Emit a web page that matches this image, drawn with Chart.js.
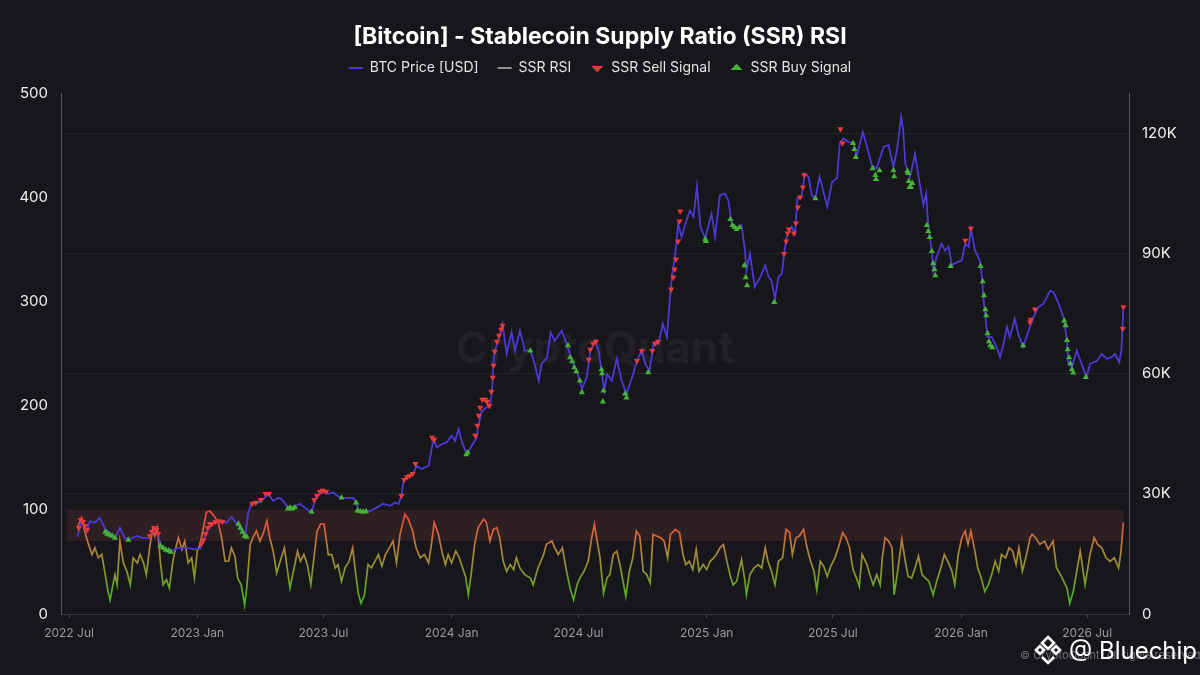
<!DOCTYPE html>
<html>
<head>
<meta charset="utf-8">
<title>[Bitcoin] - Stablecoin Supply Ratio (SSR) RSI</title>
<script src="https://cdn.jsdelivr.net/npm/chart.js@4.4.1/dist/chart.umd.min.js"></script>
<style>
html,body{margin:0;padding:0;background:#17161b;}
#wrap{position:relative;width:1200px;height:675px;overflow:hidden;background:#17161b;font-family:Inter,'Noto Sans',sans-serif;}
#c{position:absolute;left:0;top:0;}
#copy{position:absolute;left:1020px;top:648px;font-size:11px;color:#6f6e74;white-space:nowrap;}
#brand{position:absolute;left:1033px;top:634px;display:flex;align-items:center;color:#ffffff;font-size:24px;white-space:nowrap;}
#brand svg{margin-right:6px;}
</style>
</head>
<body>
<div id="wrap">
<canvas id="c" width="1200" height="675"></canvas>
<div id="copy">© CryptoQuant. All rights reserved.</div>
<div id="brand"><svg width="30" height="32" viewBox="0 0 30 32"><g fill="none" stroke="#ffffff" stroke-width="2.6"><path d="M15 3 L21 9 L15 15 L9 9 Z"/><path d="M3 16 L7 12 L11 16 L7 20 Z"/><path d="M19 16 L23 12 L27 16 L23 20 Z"/><path d="M9 23 L15 29 L21 23"/></g></svg><span>@ Bluechip</span></div>
</div>
<script>
// ---- x axis ticks (days since 2022-07-01) ----
const tickDays = [0, 184, 365, 549, 731, 915, 1096, 1280, 1461];
const tickLabels = ['2022 Jul', '2023 Jan', '2023 Jul', '2024 Jan', '2024 Jul', '2025 Jan', '2025 Jul', '2026 Jan', '2026 Jul'];
const leftTicks = [0, 100, 200, 300, 400, 500];
const rightTicks = [0, 30000, 60000, 90000, 120000];

// ---- BTC price (days since 2022-07-01, price in thousands USD) ----
const priceDays = [
  12,18,25,30,37,44,52,59,66,73,
  80,88,97,106,116,123,128,133,140,147,
  156,169,178,188,192,198,207,217,226,233,
  241,248,253,257,262,269,278,286,293,300,
  305,314,321,331,341,348,355,365,372,379,
  389,398,408,412,416,425,432,442,451,461,
  468,473,477,480,487,494,499,506,516,523,
  528,535,542,549,554,559,564,571,578,585,
  587,592,602,604,607,609,611,616,622,628,
  635,640,647,654,662,667,674,678,686,691,
  697,707,714,721,729,736,743,748,755,760,
  764,768,772,779,786,793,800,808,815,822,
  827,833,839,846,852,858,862,865,870,874,
  879,886,891,896,901,906,913,917,922,927,
  934,941,946,951,958,965,970,972,977,984,
  992,999,1004,1008,1013,1018,1023,1026,1030,1037,
  1042,1045,1051,1056,1061,1066,1071,1077,1082,1088,
  1095,1102,1106,1111,1118,1126,1130,1139,1145,1152,
  1159,1169,1176,1183,1188,1194,1197,1200,1207,1214,
  1219,1226,1230,1233,1238,1240,1245,1252,1257,1262,
  1267,1274,1281,1286,1291,1294,1300,1307,1310,1312,
  1315,1318,1324,1331,1336,1341,1346,1350,1357,1362,
  1369,1377,1384,1391,1398,1408,1413,1420,1427,1432,
  1434,1439,1446,1453,1460,1465,1475,1482,1489,1496,
  1501,1507,1510,1513
];
const priceK = [
  19.25,23.2,20.7,23.2,22.8,24.0,21.2,20.2,19.0,21.5,
  19.0,18.7,19.5,19.0,19.0,21.2,19.5,16.5,16.0,15.7,
  16.5,16.5,16.2,16.2,18.2,20.7,22.7,23.2,22.8,24.2,
  22.5,20.7,19.5,25.0,27.8,27.5,28.5,30.0,28.2,29.0,
  28.7,26.6,26.5,27.5,26.2,25.3,29.5,30.6,30.0,30.3,
  29.0,29.0,29.0,27.8,25.7,25.6,25.7,26.6,27.5,27.0,
  27.8,27.5,29.5,33.2,34.5,35.0,37.0,36.2,37.0,43.7,
  41.6,42.4,42.8,44.5,43.2,46.2,42.8,39.9,42.0,44.0,
  46.6,50.5,52.0,51.6,55.7,62.4,65.7,68.2,72.4,64.9,
  70.3,65.7,70.7,65.7,65.7,63.2,58.2,62.4,64.0,70.3,
  68.2,70.7,67.4,63.7,60.3,56.2,59.1,65.7,68.2,65.7,
  60.7,55.7,59.9,58.2,63.7,58.2,54.9,59.1,63.2,65.7,
  62.4,60.7,67.8,67.4,72.4,69.1,78.2,84.1,89.9,97.4,
  94.1,98.2,100.7,99.1,106.6,96.6,93.7,96.6,99.9,94.1,
  104.5,104.9,103.2,97.4,96.2,97.0,90.7,85.7,89.9,81.6,
  84.1,87.0,84.1,83.2,78.7,84.1,84.9,89.9,94.1,96.6,
  94.9,103.7,104.1,109.9,109.1,104.5,103.7,109.1,105.7,101.6,
  107.8,108.7,117.4,118.7,117.8,117.4,114.1,120.3,116.6,112.0,
  111.2,116.6,117.0,111.6,115.7,124.1,120.7,112.4,109.1,114.9,
  109.1,102.0,104.9,96.6,90.7,85.7,89.1,92.4,90.7,91.6,
  87.0,87.8,88.2,92.4,91.6,96.2,90.7,88.2,84.1,79.1,
  74.1,69.1,69.1,66.6,64.1,67.4,71.6,69.1,73.7,69.9,
  66.6,70.7,74.1,76.6,77.4,80.7,80.3,77.4,74.1,68.2,
  62.4,61.6,65.7,62.4,59.1,62.4,63.2,64.9,63.7,64.1,
  64.9,62.8,65.7,76.6
];

// ---- SSR RSI ----
const rsiDays = [
  13,18,23,28,33,37,42,47,52,56,
  59,63,66,69,73,78,83,88,92,98,
  102,107,111,116,120,123,127,131,135,140,
  144,149,152,157,162,166,171,176,180,184,
  188,192,197,202,208,214,219,224,229,233,
  238,242,247,252,255,260,264,269,274,279,
  284,288,293,298,303,309,313,317,322,328,
  332,337,342,347,352,356,361,366,372,377,
  382,386,391,396,402,407,411,415,419,424,
  429,434,439,444,449,454,461,465,470,475,
  482,487,493,498,504,510,516,520,524,530,
  535,540,544,549,555,560,564,569,573,577,
  582,587,595,599,604,609,614,618,623,628,
  633,638,642,647,654,662,666,673,681,685,
  693,697,702,708,713,719,724,729,733,739,
  745,750,754,757,762,767,772,776,781,786,
  791,795,799,804,809,814,819,824,829,834,
  838,843,849,854,859,863,870,876,881,885,
  890,895,900,904,910,915,920,925,929,934,
  939,944,949,953,958,965,970,972,977,983,
  989,994,999,1003,1008,1013,1018,1024,1029,1034,
  1038,1043,1048,1054,1059,1064,1069,1073,1078,1083,
  1088,1093,1099,1104,1110,1115,1120,1125,1130,1134,
  1138,1145,1149,1154,1159,1164,1167,1171,1176,1181,
  1184,1189,1195,1200,1204,1209,1214,1219,1224,1229,
  1234,1240,1245,1251,1256,1262,1267,1271,1276,1281,
  1286,1290,1294,1299,1304,1309,1314,1319,1324,1329,
  1334,1338,1344,1349,1354,1359,1363,1368,1374,1379,
  1382,1387,1393,1400,1405,1412,1417,1424,1432,1436,
  1441,1446,1451,1458,1465,1471,1476,1482,1488,1494,
  1500,1506,1509,1513
];
const rsiValues = [
  84.5,92.6,78,66.8,57.1,63.5,53.9,57.1,37.8,21.6,
  13.5,28,37.8,28,70,49,41,28,53.9,49,
  57.1,49,37.8,65.2,81.3,74.8,82.9,50.6,28,32.9,
  24.8,50.6,60.3,73.2,62,70,49,53.9,34.5,60.3,
  66.8,79.7,97.4,99,94.2,87.8,73.2,50.6,50.6,63.5,
  55.5,34.5,28,8.7,24.8,66.8,73.2,79.7,70,78,
  89.4,73.2,60.3,39.3,50.6,63.5,44.2,24.8,41,60.3,
  50.6,57.1,47.4,28,57.1,79.7,86.2,86.2,57,57.1,
  44.2,47.4,31.3,44.2,50.6,63.5,41,20,10.3,18.4,
  47.4,44.2,50.6,57.1,45.8,57.1,65.2,70,49,76.5,
  95.8,91,79.7,63.5,53.9,57.1,49,66.8,87.8,76.5,
  60.3,47.4,57.1,49,60.3,53.9,45.8,36.1,18.4,37.8,
  66.8,82.9,91,87.8,70,81.3,82.9,73.2,50.6,41,
  47.4,42.6,53.9,44.2,37.8,34.5,28,44.2,57.1,66.8,
  70,63.5,57.1,63.5,44.2,24.8,13.5,28,34.5,41,
  50.6,73.2,86.2,73.2,53.9,20,34.5,37.8,57.1,60.3,
  45.8,31.3,16.8,41,53.9,79.7,74.8,41,37.8,29.7,
  76.5,74.8,73.2,70,53.9,76.5,81.3,78,57.1,47.4,
  50.6,42.6,62,41,47.4,42.6,50.6,53.9,57.1,63.5,
  66.8,50.6,36.1,28,31.3,52.3,31.3,18.4,37.8,44.2,
  47.4,44.2,63.5,50.6,41,28,50.6,53.9,81.3,78,
  57.1,73.2,74.8,81.3,63.5,50.6,41,23.2,50.6,45.8,
  36.1,45.8,53.9,63.5,78,73.2,63.5,42.6,34.5,26.4,
  57.1,47.4,37.8,28,37.8,28,53.9,73.2,70,63.5,
  18.4,41,71.7,50.6,36.1,34.5,44.2,55.5,37.8,34.5,
  31.3,18.4,31.3,44.2,57.1,49,41,28,57.1,73.2,
  79.7,66.8,79.7,63.5,44.2,34.5,21.6,28,37.8,50.6,
  41,57.1,53.9,63.5,60.3,47.4,63.5,41,57.1,73.2,
  76.5,73.2,66.8,70,62,70,44.2,36.1,24.8,10.3,
  21.6,41,60.3,28,57.1,73.2,66.8,63.5,53.9,50.6,
  53.9,44.2,57.1,87.8
];

// ---- SSR sell signals ----
const sellDays = [
  14,17,20,23,26, 116,119,122,125,128, 190,193,196,199,202, 205,210,215,220,
  263,268,275,282,287, 352,356,360,364,369, 477,481,485,489,493,497, 521,524,
  583,586,588,590,593,597,600,603, 606,608,609, 611,614,617,620,622,
  746,748,752,756, 815,822, 837,841,845, 864,867,869,871,874,876,877,
  1026,1029,1031,1033, 1040,1043,1046,1049,1053,1055, 1107,1110,
  1286,1294, 1379,1380,1386, 1512,1513
];
const sellPriceK = [
  21.5,23.5,23,22,21, 19.5,20.5,21.5,21,20, 17.5,18.5,20,21.5,22.5, 22.5,23,23.2,23,
  27.5,27.8,28.5,30,30, 28.5,29.5,30.5,30.8,30.5, 29.5,33.5,34.2,34.5,35,37.5, 44,43.5,
  44.5,47,49.5,51.5,53.5,53.5,53,52, 55.5,59,62, 65.5,68,69.5,71,72,
  63.5,66,67.5,68, 63.2,65.7, 65.7,67.5,68, 81,84,86,88.5,93,98,100.5,
  89.9,93,95,96, 95,97.5,101.5,104,106.5,109.5, 121,117.5,
  93.2,96.2, 72.8,73.5,76, 71.2,76.6
];

// ---- SSR buy signals ----
const buyDays = [
  52,55,58,62,66, 85, 131,135,139,143,146, 243,246,249,252,255, 314,317,320,324,
  348, 391, 412,414,418,422,426, 570,572, 662, 716,719,722,725,728, 733,736,
  764,765,766,767, 798,800, 831, 913,914, 949,952,955,958,962, 969,971,973,
  1012, 1071, 1125,1127,1129, 1153,1157,1158,1163, 1183,1184,
  1203,1204,1205,1206,1208,1210, 1231,1233,1235,1238,1240,1242,1243, 1265,
  1308,1311,1313,1315,1316,1318,1320,1322,1325, 1369,
  1428,1430,1432,1433,1435,1437,1439,1441, 1459
];
const buyPriceK = [
  20.5,20,19.8,19.5,19, 18.5, 17,16.5,16,15.8,15.5, 22.5,21.5,20.5,19.5,19.2, 26.3,26.5,26.3,26.6,
  25.5, 29, 27.8,25.8,25.6,25.5,25.6, 39.8,40.3, 65.7, 67,64,63,61.5,60.5, 58.2,55.3,
  61,60,53,55.7, 55,54, 60.3, 93.5,93, 98.5,97,96.5,96,96.5, 87,84,82,
  77.8, 103.7, 117.5,116,114, 111.2,109.5,108.5,110.7, 110.7,109.2,
  110.5,110,108,106.5,106.5,107.5, 97,95.5,94,90.5,87.5,86,84.5, 86.8,
  86.8,83,79.5,76,74.5,70,68,67,66.5, 67,
  73.2,72,68.3,66,64,62.5,61,60.2, 59.1
];

// ---- RSI overheated band ----
const bandLow = 70;
const bandHigh = 100;
const bandStartDay = -3;
const bandEndDay = 1513;

const FONT = "Inter, 'Noto Sans', sans-serif";
Chart.defaults.font.family = FONT;

const toPoints = (xs, ys, mul) => xs.map((d, i) => ({ x: d, y: ys[i] * mul }));

const PRICE_COLOR = '#4b39d3';
const SELL_COLOR = '#e5393b';
const BUY_COLOR = '#45b239';

function rsiGradient(context) {
  const chart = context.chart;
  const { ctx, chartArea, scales } = chart;
  if (!chartArea) return '#a88a3a';
  const y = scales.y;
  const g = ctx.createLinearGradient(0, y.getPixelForValue(0), 0, y.getPixelForValue(100));
  g.addColorStop(0.0, '#1fc21c');
  g.addColorStop(0.15, '#4eae26');
  g.addColorStop(0.35, '#7c9a2f');
  g.addColorStop(0.55, '#a38b38');
  g.addColorStop(0.72, '#c8703b');
  g.addColorStop(0.88, '#e0543a');
  g.addColorStop(1.0, '#ef3f39');
  return g;
}

const bandPlugin = {
  id: 'bandAndWatermark',
  beforeDatasetsDraw(chart) {
    const { ctx, scales, chartArea } = chart;
    const x = scales.x, y = scales.y;
    const x0 = x.getPixelForValue(bandStartDay);
    const x1 = x.getPixelForValue(bandEndDay);
    const yTop = y.getPixelForValue(bandHigh);
    const yBot = y.getPixelForValue(bandLow);
    ctx.save();
    ctx.fillStyle = '#2e1f22';
    ctx.fillRect(x0, yTop, x1 - x0, yBot - yTop);
    ctx.font = "bold 44px " + FONT;
    ctx.fillStyle = 'rgba(255,255,255,0.045)';
    ctx.textAlign = 'center';
    ctx.textBaseline = 'middle';
    ctx.fillText('CryptoQuant', (chartArea.left + chartArea.right) / 2, 350);
    ctx.restore();
  }
};

const spacerPlugin = {
  id: 'legendSpacer',
  start(chart) {
    const box = {
      position: 'top', weight: 0, fullSize: true,
      options: { stack: undefined, stackWeight: 1 },
      top: 0, left: 0, right: 0, bottom: 0, width: 0, height: 0,
      isHorizontal() { return true; },
      update(maxWidth) { this.width = maxWidth; this.height = 8; return { width: maxWidth, height: 8 }; },
      draw() {}
    };
    Chart.layouts.addBox(chart, box);
  }
};

new Chart(document.getElementById('c'), {
  type: 'line',
  data: {
    datasets: [
      {
        label: 'SSR Sell Signal',
        data: toPoints(sellDays, sellPriceK, 1000),
        yAxisID: 'y1', showLine: false, order: 0,
        pointStyle: 'triangle', rotation: 180, pointRadius: 3.6,
        pointBackgroundColor: SELL_COLOR, pointBorderColor: SELL_COLOR, pointBorderWidth: 0
      },
      {
        label: 'SSR Buy Signal',
        data: toPoints(buyDays, buyPriceK, 1000),
        yAxisID: 'y1', showLine: false, order: 1,
        pointStyle: 'triangle', rotation: 0, pointRadius: 3.6,
        pointBackgroundColor: BUY_COLOR, pointBorderColor: BUY_COLOR, pointBorderWidth: 0
      },
      {
        label: 'BTC Price [USD]',
        data: toPoints(priceDays, priceK, 1000),
        yAxisID: 'y1', order: 2,
        borderColor: PRICE_COLOR, borderWidth: 1.8, pointRadius: 0, tension: 0
      },
      {
        label: 'SSR RSI',
        data: toPoints(rsiDays, rsiValues, 1),
        yAxisID: 'y', order: 3,
        borderColor: rsiGradient, borderWidth: 1.7, pointRadius: 0, tension: 0
      }
    ]
  },
  options: {
    responsive: false,
    animation: false,
    events: [],
    layout: { padding: { top: 0, left: 0, right: 0, bottom: 0 } },
    plugins: {
      tooltip: { enabled: false },
      title: {
        display: true,
        text: '[Bitcoin] - Stablecoin Supply Ratio (SSR) RSI',
        color: '#ffffff',
        font: { size: 23, weight: 'bold', family: FONT },
        padding: { top: 23.2, bottom: -8.8 }
      },
      legend: {
        display: true,
        position: 'top',
        align: 'center',
        labels: {
          usePointStyle: true,
          pointStyleWidth: 14,
          boxHeight: 6,
          padding: 19,
          color: '#e4e4e4',
          font: { size: 14, family: FONT },
          generateLabels() {
            return [
              { text: 'BTC Price [USD]', pointStyle: 'line', strokeStyle: PRICE_COLOR, fillStyle: PRICE_COLOR, lineWidth: 2, hidden: false, datasetIndex: 2, fontColor: '#e4e4e4' },
              { text: 'SSR RSI', pointStyle: 'line', strokeStyle: '#8f8f95', fillStyle: '#8f8f95', lineWidth: 2, hidden: false, datasetIndex: 3, fontColor: '#e4e4e4' },
              { text: 'SSR Sell Signal', pointStyle: 'triangle', rotation: 180, strokeStyle: SELL_COLOR, fillStyle: SELL_COLOR, lineWidth: 0, hidden: false, datasetIndex: 0, fontColor: '#e4e4e4' },
              { text: 'SSR Buy Signal', pointStyle: 'triangle', rotation: 0, strokeStyle: BUY_COLOR, fillStyle: BUY_COLOR, lineWidth: 0, hidden: false, datasetIndex: 1, fontColor: '#e4e4e4' }
            ];
          }
        }
      }
    },
    scales: {
      x: {
        type: 'linear',
        min: -11.5,
        max: 1521,
        afterBuildTicks(s) { s.ticks = tickDays.map(v => ({ value: v })); },
        afterFit(s) { s.height = 61; },
        grid: { display: true, drawOnChartArea: false, drawTicks: true, tickLength: 4, color: '#4a494f' },
        border: { display: true, color: '#35343a', width: 1 },
        ticks: {
          color: '#9a9a9e', font: { size: 12, family: FONT }, padding: 8,
          maxRotation: 0, autoSkip: false,
          callback(v, i) { return tickLabels[i]; }
        }
      },
      y: {
        position: 'left',
        min: 0, max: 500,
        afterBuildTicks(s) { s.ticks = leftTicks.map(v => ({ value: v })); },
        afterFit(s) { s.width = 61; },
        grid: { display: false, drawTicks: false },
        border: { display: true, color: '#56555b', width: 1 },
        ticks: { color: '#f0f0f0', font: { size: 15, family: FONT }, padding: 13 }
      },
      y1: {
        position: 'right',
        min: 0, max: 130000,
        afterBuildTicks(s) { s.ticks = rightTicks.map(v => ({ value: v })); },
        afterFit(s) { s.width = 71; },
        grid: { display: true, drawOnChartArea: true, drawTicks: false, color: '#25242a', lineWidth: 1 },
        border: { display: true, color: '#56555b', width: 1 },
        ticks: {
          color: '#f0f0f0', font: { size: 15, family: FONT }, padding: 13,
          callback(v) { return v === 0 ? '0' : (v / 1000) + 'K'; }
        }
      }
    }
  },
  plugins: [spacerPlugin, bandPlugin]
});
</script>
</body>
</html>
